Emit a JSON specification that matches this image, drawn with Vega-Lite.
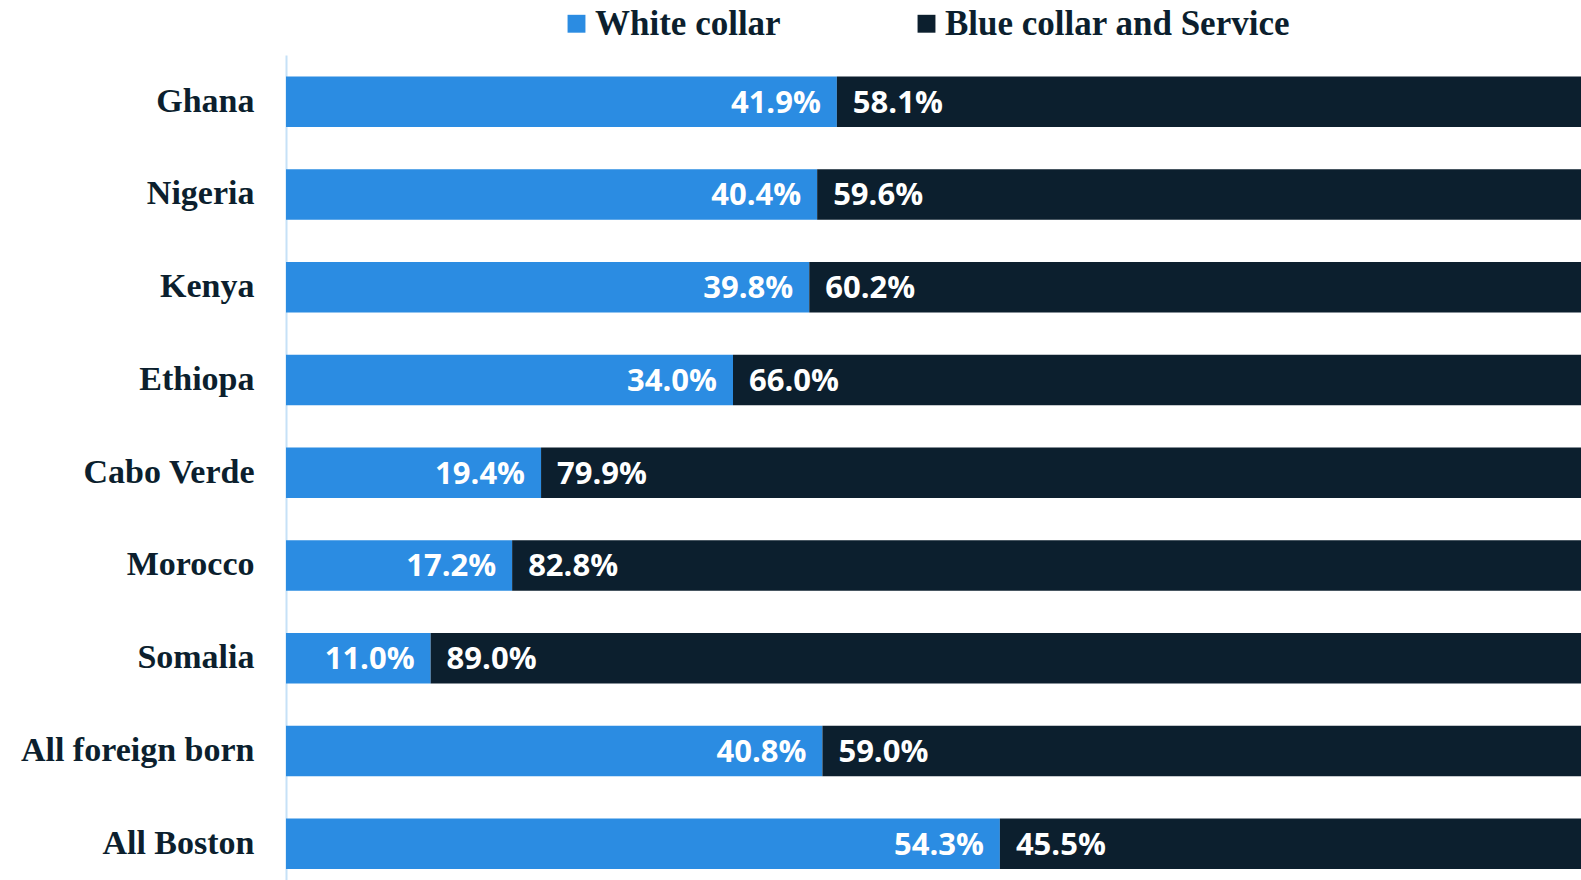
{
  "$schema": "https://vega.github.io/schema/vega-lite/v6.json",
  "width": 1295,
  "height": 825,
  "autosize": {"type": "none"},
  "padding": {"left": 286, "top": 55, "right": 0, "bottom": 0},
  "background": "white",
  "config": {"view": {"stroke": null}},
  "data": {"values": [
    {"country": "Ghana", "white": 0.419, "blue": 0.581},
    {"country": "Nigeria", "white": 0.404, "blue": 0.596},
    {"country": "Kenya", "white": 0.398, "blue": 0.602},
    {"country": "Ethiopa", "white": 0.340, "blue": 0.660},
    {"country": "Cabo Verde", "white": 0.194, "blue": 0.799},
    {"country": "Morocco", "white": 0.172, "blue": 0.828},
    {"country": "Somalia", "white": 0.110, "blue": 0.890},
    {"country": "All foreign born", "white": 0.408, "blue": 0.590},
    {"country": "All Boston", "white": 0.543, "blue": 0.455}
  ]},
  "encoding": {
    "y": {
      "field": "country", "type": "nominal", "sort": null,
      "scale": {"paddingInner": 0.4555, "paddingOuter": 0.175, "align": 0.66},
      "axis": {
        "title": null, "ticks": false, "grid": false,
        "domainColor": "#c6e1f7", "domainWidth": 2,
        "labelFont": "Liberation Serif", "labelFontWeight": "bold", "labelFontSize": 34,
        "labelColor": "#0c1f2e", "labelPadding": 32, "labelLimit": 400
      }
    }
  },
  "layer": [
    {
      "transform": [{"fold": ["white", "blue"], "as": ["key", "value"]}],
      "mark": {"type": "bar", "clip": true},
      "encoding": {
        "x": {"field": "value", "type": "quantitative", "stack": "zero",
              "scale": {"domain": [0, 0.985], "nice": false, "zero": true}, "axis": null},
        "color": {
          "field": "key", "type": "nominal",
          "scale": {"domain": ["white", "blue"], "range": ["#2b8ce2", "#0c1f2e"]},
          "legend": {
            "orient": "none", "direction": "horizontal", "legendX": 273, "legendY": -49,
            "title": null, "padding": 0,
            "labelExpr": "datum.value == 'white' ? 'White collar' : 'Blue collar and Service'",
            "symbolType": "square", "symbolSize": 320, "symbolStrokeWidth": 0,
            "labelFont": "Liberation Serif", "labelFontWeight": "bold", "labelFontSize": 35,
            "labelColor": "#0c1f2e", "labelOffset": 1, "columnPadding": 128,
            "labelLimit": 600
          }
        },
        "order": {"field": "key", "sort": "descending"}
      }
    },
    {
      "mark": {"type": "text", "align": "right", "baseline": "middle", "dx": -16, "dy": 2,
               "font": "Open Sans", "fontWeight": "bold", "fontSize": 31, "color": "white"},
      "encoding": {
        "x": {"field": "white", "type": "quantitative"},
        "text": {"field": "white", "type": "quantitative", "format": ".1%"}
      }
    },
    {
      "mark": {"type": "text", "align": "left", "baseline": "middle", "dx": 16, "dy": 2,
               "font": "Open Sans", "fontWeight": "bold", "fontSize": 31, "color": "white"},
      "encoding": {
        "x": {"field": "white", "type": "quantitative"},
        "text": {"field": "blue", "type": "quantitative", "format": ".1%"}
      }
    }
  ]
}
